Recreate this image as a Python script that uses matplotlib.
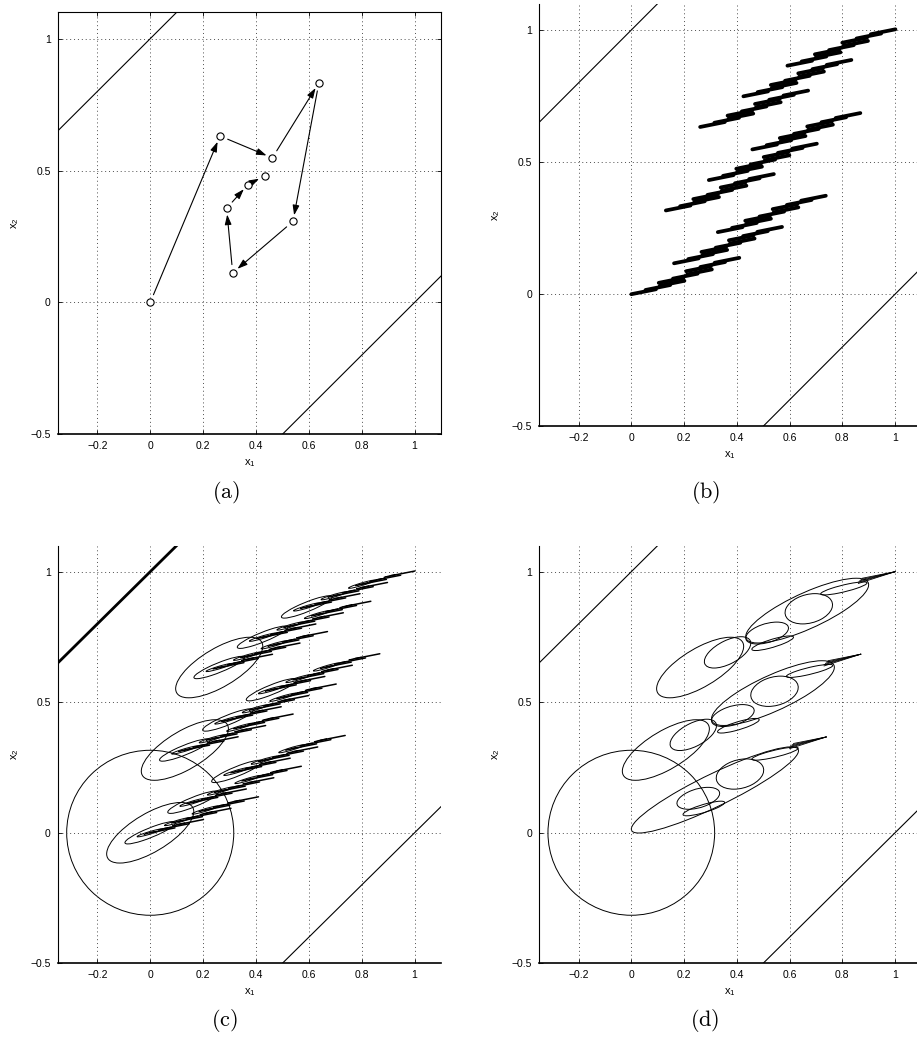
import numpy as np
import matplotlib.pyplot as plt
from matplotlib.collections import LineCollection
from matplotlib.patches import Circle
from matplotlib.transforms import Affine2D

plt.rcParams['font.family'] = ['Liberation Sans', 'DejaVu Sans']
plt.rcParams['mathtext.default'] = 'regular'

# ---- data ----
x_ticks = [-0.2, 0, 0.2, 0.4, 0.6, 0.8, 1]
x_tick_labels = ['\u22120.2', '0', '0.2', '0.4', '0.6', '0.8', '1']
y_ticks = [-0.5, 0, 0.5, 1]
y_tick_labels = ['\u22120.5', '0', '0.5', '1']

# constraint lines x2 = x1 + c
bound_offsets = [1.0, -1.0]

# (a) trajectory
traj_x = [0.0, 0.264, 0.462, 0.638, 0.540, 0.312, 0.289, 0.370, 0.433]
traj_y = [0.0, 0.631, 0.548, 0.833, 0.307, 0.112, 0.357, 0.447, 0.480]

# (b)/(c) attractor: start points of the three groups and nine strands
group_x = [0.0, 0.131, 0.261]
group_y = [0.0, 0.317, 0.633]
strand_x = [0.0, 0.162, 0.328, 0.131, 0.294, 0.459, 0.261, 0.425, 0.592]
strand_y = [0.0, 0.117, 0.235, 0.317, 0.432, 0.548, 0.633, 0.749, 0.865]
# offsets of the pieces inside a strand (two levels) and one piece's extent
sub_dx = [0.0, 0.104, 0.208]
sub_dy = [0.0, 0.043, 0.087]
piece_dx = [0.0, 0.054, 0.108]
piece_dy = [0.0, 0.016, 0.032]
piece_len = (0.0935, 0.0187)

# ellipse shapes (m11, m12, m22): x = m11*cos + m12*sin, y = m22*sin
circle_r = 0.316
shape_l1 = (0.118, 0.115, 0.116)
shape_l2 = (0.0442, 0.085, 0.0428)
shape_l3 = (0.0166, 0.0473, 0.0157)
shape_l4 = (0.0062, 0.0234, 0.0058)

# (d) ellipses relative to a group start:
# centre dx, dy, half width, half height, y-shift of the right end
d_all_cx = [0.254, 0.275, 0.412, 0.545]
d_all_cy = [0.132, 0.093, 0.225, 0.303]
d_all_hx = [0.081, 0.079, 0.090, 0.088]
d_all_hy = [0.042, 0.028, 0.058, 0.025]
d_all_sk = [0.019, 0.023, 0.015, 0.021]
# only in the middle and top groups
d_up_cx = [0.0, 0.406, 0.104]
d_up_cy = [0.0, 0.218, 0.058]
d_up_hx = [0.165, 0.233, 0.088]
d_up_hy = [0.116, 0.124, 0.060]
d_up_sk = [0.081, 0.099, 0.035]
# only in the bottom group
d_low_cx = [0.317]
d_low_cy = [0.164]
d_low_hx = [0.317]
d_low_hy = [0.165]
d_low_sk = [0.150]
comb_x0 = [0.600, 0.600, 0.605, 0.610, 0.615]
comb_y0 = [0.322, 0.327, 0.332, 0.337, 0.342]
comb_tip = (0.739, 0.367)

W, H = 917, 1049
fig = plt.figure(figsize=(W / 100, H / 100), dpi=100)


def panel(l, t, r, b):
    return fig.add_axes([l / W, 1 - b / H, (r - l) / W, (b - t) / H])


def style(ax, box):
    ax.set_xlim(-0.35, 1.1)
    ax.set_ylim(-0.5, 1.1)
    ax.set_xticks(x_ticks)
    ax.set_xticklabels(x_tick_labels)
    ax.set_yticks(y_ticks)
    ax.set_yticklabels(y_tick_labels)
    ax.grid(True, color='0.3', linestyle=(0, (1, 3)), linewidth=0.7)
    ax.tick_params(direction='in', length=3, labelsize=7.5, pad=5,
                   top=box, right=box, width=0.6)
    for s in ['top', 'right']:
        ax.spines[s].set_visible(box)
    for s in ax.spines.values():
        s.set_linewidth(0.8)
    ax.spines['bottom'].set_linewidth(1.2)
    ax.set_xlabel('x$_1$', fontsize=8, labelpad=4)
    ax.set_ylabel('x$_2$', fontsize=8, labelpad=7)


def bounds(ax, lw_top=0.8):
    ax.axline((0, bound_offsets[0]), slope=1, color='k', lw=lw_top)
    ax.axline((0, bound_offsets[1]), slope=1, color='k', lw=0.8)


def ellipse(ax, cx, cy, m11, m12, m22, lw=0.7):
    tr = Affine2D().from_values(m11, 0, m12, m22, cx, cy) + ax.transData
    ax.add_patch(Circle((0, 0), 1, fill=False, ec='k', lw=lw, transform=tr))


def ellipse_hw(ax, cx, cy, hx, hy, sk, lw=0.7):
    m12 = sk * hx / hy
    ellipse(ax, cx, cy, np.sqrt(hx ** 2 - m12 ** 2), m12, hy, lw)


def piece_segments():
    segs = []
    for sx, sy in zip(strand_x, strand_y):
        for ox, oy in zip(sub_dx, sub_dy):
            for px, py in zip(piece_dx, piece_dy):
                x0, y0 = sx + ox + px, sy + oy + py
                segs.append([(x0, y0), (x0 + piece_len[0], y0 + piece_len[1])])
    return segs


ax_a = panel(57.7, 12.3, 441, 434.3)
ax_b = panel(539, 3.6, 921.4, 426.3)
ax_c = panel(57.7, 545.6, 441, 963.3)
ax_d = panel(539, 545.6, 921.4, 963.3)

# (a)
style(ax_a, True)
bounds(ax_a)
for i in range(len(traj_x) - 1):
    ax_a.annotate('', xy=(traj_x[i + 1], traj_y[i + 1]), xytext=(traj_x[i], traj_y[i]),
                  arrowprops=dict(arrowstyle='-|>,head_length=0.6,head_width=0.2',
                                  color='k', lw=0.8, shrinkA=6, shrinkB=4.5,
                                  mutation_scale=10))
ax_a.plot(traj_x, traj_y, 'o', ms=5.2, mfc='white', mec='k', mew=0.8, zorder=5)

# (b)
style(ax_b, False)
bounds(ax_b)
ax_b.add_collection(LineCollection(piece_segments(), colors='k', linewidths=2.7,
                                   capstyle='round'))

# (c)
style(ax_c, False)
bounds(ax_c, lw_top=2.0)
ax_c.add_collection(LineCollection(piece_segments(), colors='k', linewidths=1.1,
                                   capstyle='round'))
ellipse(ax_c, 0, 0, circle_r, 0, circle_r)
for gx, gy in zip(group_x, group_y):
    ellipse(ax_c, gx, gy, *shape_l1)
for sx, sy in zip(strand_x, strand_y):
    ellipse(ax_c, sx, sy, *shape_l2)
    for ox, oy in zip(sub_dx, sub_dy):
        ellipse(ax_c, sx + ox, sy + oy, *shape_l3)
        for px, py in zip(piece_dx, piece_dy):
            ellipse(ax_c, sx + ox + px, sy + oy + py, *shape_l4, lw=0.6)

# (d)
style(ax_d, False)
bounds(ax_d)
ellipse(ax_d, 0, 0, circle_r, 0, circle_r)
for k, (gx, gy) in enumerate(zip(group_x, group_y)):
    for cx, cy, hx, hy, sk in zip(d_all_cx, d_all_cy, d_all_hx, d_all_hy, d_all_sk):
        ellipse_hw(ax_d, gx + cx, gy + cy, hx, hy, sk)
    if k == 0:
        extra = zip(d_low_cx, d_low_cy, d_low_hx, d_low_hy, d_low_sk)
    else:
        extra = zip(d_up_cx, d_up_cy, d_up_hx, d_up_hy, d_up_sk)
    for cx, cy, hx, hy, sk in extra:
        ellipse_hw(ax_d, gx + cx, gy + cy, hx, hy, sk)
    for x0, y0 in zip(comb_x0, comb_y0):
        ax_d.plot([gx + x0, gx + comb_tip[0]], [gy + y0, gy + comb_tip[1]], 'k', lw=0.6)

for txt, x, y in [('(a)', 226, 492), ('(b)', 706, 492), ('(c)', 224, 1020), ('(d)', 705, 1020)]:
    fig.text(x / W, 1 - y / H, r'$\mathrm{' + txt + '}$', math_fontfamily='cm',
             fontsize=16, ha='center', va='center')

fig.savefig('out.png', dpi=100)
